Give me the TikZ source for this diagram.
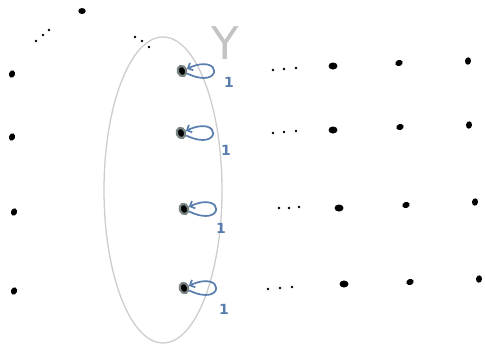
\documentclass[tikz,border=0pt]{standalone}
\usepackage{fontspec}
\newfontfamily\labelfont{DejaVu Sans}
\usetikzlibrary{arrows.meta, shapes.geometric}
\definecolor{loopblue}{RGB}{88,124,172}
\definecolor{ringgray}{RGB}{120,132,132}
\definecolor{setgray}{RGB}{205,205,205}
\tikzset{
  blob/.style={ellipse, fill=black, inner sep=0pt, minimum width=7.5pt, minimum height=6pt},
  tilted/.style={blob, rotate=70},
  speck/.style={circle, fill=black, inner sep=0pt, minimum size=2.6pt},
  ringed/.style={ellipse, fill=black, draw=ringgray, line width=2.2pt, inner sep=0pt,
    minimum width=8.5pt, minimum height=10.5pt, rotate=20},
  selfloop/.style={loopblue, line width=1.7pt, -{Straight Barb[length=4pt, width=8pt]},
    loop, out=-28, in=22, distance=40pt},
  wlabel/.style={text=loopblue, font=\labelfont\bfseries\fontsize{14}{14}\selectfont}
}
\begin{document}
\begin{tikzpicture}[x=1pt, y=-1pt]
\useasboundingbox (0,0) rectangle (485,346);
% the set Y
\draw[setgray, line width=1.3pt] (163,190) ellipse [x radius=59pt, y radius=153pt];
\node[text=setgray!95!black, font=\labelfont\fontsize{45}{45}\selectfont] (ylab) at (225,43) {Y};
% top vertex and the dots leading to it
\node[blob] (top) at (82,11) {};
\node[speck] (td1) at (36,41) {};
\node[speck] (td2) at (43,35) {};
\node[speck] (td3) at (49,30) {};
\node[speck] (td4) at (135,37) {};
\node[speck] (td5) at (142,41) {};
\node[speck] (td6) at (149,47) {};
% left column
\node[tilted] (l1) at (12,74) {};
\node[tilted] (l2) at (12,137) {};
\node[tilted] (l3) at (14,212) {};
\node[tilted] (l4) at (14,291) {};
% vertices of Y with their self-loops
\node[ringed] (y1) at (182,71) {};
\node[ringed] (y2) at (181,133) {};
\node[ringed] (y3) at (184,209) {};
\node[ringed] (y4) at (184,288) {};
\path (y1) edge[selfloop] (y1);
\path (y2) edge[selfloop] (y2);
\path (y3) edge[selfloop] (y3);
\path (y4) edge[selfloop] (y4);
\node[wlabel] (w1) at (229,82) {1};
\node[wlabel] (w2) at (226,150) {1};
\node[wlabel] (w3) at (221,228) {1};
\node[wlabel] (w4) at (224,309) {1};
% rows to the right
\node[speck] (a1) at (273,70) {};
\node[speck] (a2) at (284,69) {};
\node[speck] (a3) at (296,68) {};
\node[blob, minimum width=9pt, minimum height=7pt] (r11) at (333,66) {};
\node[blob, rotate=20] (r12) at (399,63) {};
\node[blob, rotate=80] (r13) at (468,61) {};
\node[speck] (b1) at (273,133) {};
\node[speck] (b2) at (284,132) {};
\node[speck] (b3) at (296,131) {};
\node[blob, minimum width=9pt, minimum height=7pt] (r21) at (333,130) {};
\node[blob, rotate=20] (r22) at (400,127) {};
\node[blob, rotate=80] (r23) at (469,125) {};
\node[speck] (c1) at (279,208) {};
\node[speck] (c2) at (289,208) {};
\node[speck] (c3) at (299,207) {};
\node[blob, minimum width=9pt, minimum height=7pt] (r31) at (339,208) {};
\node[blob, rotate=20] (r32) at (406,205) {};
\node[blob, rotate=80] (r33) at (475,202) {};
\node[speck] (d1) at (268,289) {};
\node[speck] (d2) at (280,288) {};
\node[speck] (d3) at (292,287) {};
\node[blob, minimum width=9pt, minimum height=7pt] (r41) at (344,284) {};
\node[blob, rotate=20] (r42) at (410,282) {};
\node[blob, rotate=80] (r43) at (479,279) {};
\end{tikzpicture}
\end{document}
